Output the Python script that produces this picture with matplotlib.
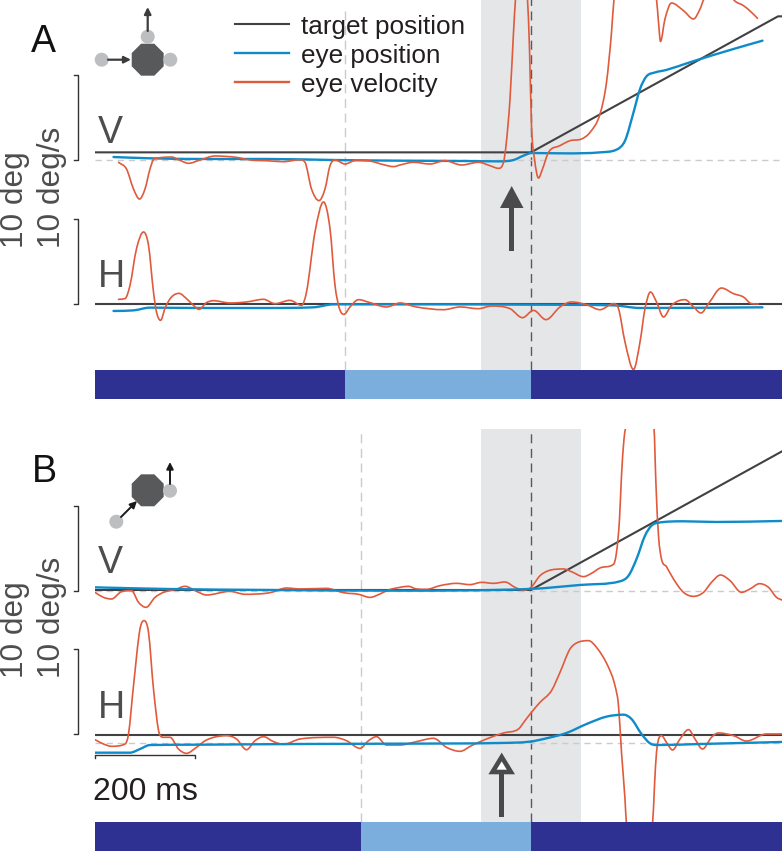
import numpy as np
import matplotlib
matplotlib.use("Agg")
import matplotlib.pyplot as plt
from matplotlib.patches import Circle, RegularPolygon, Polygon, Rectangle, PathPatch
from matplotlib.path import Path

plt.rcParams['font.family'] = ['Liberation Sans', 'DejaVu Sans']

##################################DATA  time in ms from target motion onset, traces in deg or deg/s
t_start, t_end = -872, 502

a_v_vel_t = [-825,-809,-795,-783,-772,-762,-754,-742,-719,-702,-685,-662,-632,-589,-562,-529,-495,-462,-452,-439,-424,-412,-402,-392,-372,-349,-322,-295,-275,-262,-235,-202,-172,-139,-105,-82,-65,-55,-50,-42,-35,-31,-19,-7,-3,1,7,15,23,35,58,78,101,118,138,151,161,166,208,251,255,259,268,281,305,325,338,346,380,407,425,441,453]
a_v_vel = [-0.27,-1.06,-3.41,-4.59,-3.41,-1.06,0.12,0.27,0.35,-0.04,-0.39,0,0.47,0.31,0,-0.08,-0.2,0.04,-0.27,-3.41,-4.78,-3.41,-0.67,0,-0.47,0,-0.12,-0.55,-0.78,-0.59,-0.27,-0.47,-0.08,-0.59,-0.27,-0.67,-0.98,-0.27,1.69,7.18,15.0,18.9,26,18.9,13.06,4.04,0.12,-2.12,-1.06,0.9,1.69,2.27,2.47,3.25,5.41,9.14,15.0,18.9,26,18.9,16.2,13.96,16.6,18.47,17.57,16.59,17.76,18.94,21,18.75,18.16,17.37,16.67]
a_v_pos_t = [-835,-762,-662,-529,-395,-262,-129,-62,-35,-15,1,71,138,171,188,205,218,231,248,271,318,405,463]
a_v_pos = [0.35,0.2,0.12,0.12,0,-0.08,-0.12,-0.16,0,0.51,0.82,0.78,0.9,1.22,2.27,5.6,8.35,9.84,10.3,10.6,11.5,13.06,14.04]
a_v_tgt_t = [-872,0,494,502]
a_v_tgt = [0.9,0.9,16.9,16.9]

a_h_vel_t = [-825,-812,-802,-789,-775,-765,-755,-749,-741,-731,-719,-704,-689,-675,-664,-649,-635,-602,-569,-535,-512,-482,-459,-449,-432,-415,-402,-392,-383,-374,-362,-345,-322,-289,-262,-229,-175,-142,-105,-79,-42,-17,5,30,58,81,111,138,165,175,188,205,218,228,239,251,265,281,308,325,340,355,381,405,425,441,455]
a_h_vel = [0.55,0.63,2.2,6.5,8.47,6.9,1.41,-0.94,-1.92,-0.35,0.82,1.25,0.63,-0.16,-0.63,0.16,0.39,0.12,0.24,0.55,0.04,0.43,-0.16,1.41,8.47,12.0,8.86,2.2,-0.55,-1.22,-0.35,0.51,0.16,-0.35,0.12,-0.35,-0.67,-0.35,-0.55,-0.24,-0.55,-1.61,-0.75,-1.84,-0.35,0.24,-0.08,-0.67,0.04,-0.55,-4.47,-7.7,-4.47,-0.55,1.41,0.24,-1.53,-0.16,0.51,-0.35,-1.06,0.04,1.88,1.22,0.82,0.04,0]
a_h_pos_t = [-835,-795,-762,-662,-529,-435,-395,-262,5,165,218,463]
a_h_pos = [-0.82,-0.75,-0.43,-0.47,-0.47,-0.39,-0.04,-0.04,-0.08,-0.16,-0.47,-0.39]
a_h_tgt_t = [-872,502]
a_h_tgt = [0,0]

b_v_vel_t = [-872,-855,-839,-819,-799,-785,-770,-752,-735,-712,-692,-669,-649,-602,-572,-522,-489,-462,-409,-375,-345,-322,-302,-285,-262,-245,-229,-209,-182,-149,-122,-99,-75,-52,-32,-15,0,18,35,65,81,105,121,138,165,171,177,181,186,189,215,246,250,255,261,271,285,305,325,345,361,379,398,421,438,457,475,491,502]
b_v_vel = [-0.16,-0.75,-0.94,-0.08,0.04,-1.33,-1.92,-0.75,-0.16,0.16,0.55,-0.04,-0.47,-0.04,-0.39,-0.2,0.35,0.24,0.31,-0.2,-0.39,-0.75,-0.35,0.12,0.43,0.55,0.24,0.2,0.63,0.9,0.75,1.02,0.9,1.06,0.43,0.08,0.43,1.8,2.39,2.59,2.27,1.69,2.08,2.71,3.14,4.55,8.47,13.57,17.88,19.14,26,19.14,12.4,6.5,3.76,2.86,1.41,-0.16,-0.63,-0.16,1.02,1.88,1.22,-0.16,0.24,0.86,0.43,-0.75,-1.06]
b_v_pos_t = [-872,-729,-529,-262,-2,98,178,195,211,228,241,255,305,371,502]
b_v_pos = [0.43,0.24,0.12,0.04,0.24,0.71,1.14,1.8,3.76,6.51,7.69,8.04,8.2,8.12,8.24]
b_v_tgt_t = [-872,0,502]
b_v_tgt = [0.12,0.12,16.43]

b_h_vel_t = [-872,-855,-839,-812,-805,-795,-782,-774,-765,-755,-743,-735,-722,-705,-689,-669,-649,-609,-589,-569,-552,-535,-515,-495,-462,-395,-369,-342,-325,-309,-289,-262,-229,-195,-169,-142,-119,-89,-55,-25,-12,1,18,41,58,78,91,115,131,155,168,175,181,188,191,217,243,247,251,261,271,283,298,315,328,343,361,375,405,431,471,502]
b_h_vel = [-0.55,-1.06,-1.33,-1.06,0.12,5.8,12.47,13.45,12.08,5.41,0.12,-0.27,-0.27,-1.65,-2.16,-1.45,-0.59,-0.08,-0.47,-1.73,-0.67,-0.2,-0.78,-1.1,-0.47,-0.27,-0.67,-1.57,-0.67,-0.2,-1.18,-1.18,-0.78,-0.39,-1.45,-1.92,-1.25,-0.47,0.24,0.71,1.69,2.67,3.84,5.22,7.37,10.12,10.82,11.1,10.31,7.96,5.8,3.45,-2.04,-7.53,-10.47,-14,-10.47,-5.96,-2.04,-0.08,-0.86,-1.76,-0.47,0.63,-0.47,-1.65,-0.27,0.24,-0.08,-0.71,0.12,0.12]
b_h_pos_t = [-872,-802,-782,-762,-662,-462,-262,-62,-2,31,71,111,151,185,201,221,238,251,338,502]
b_h_pos = [-2.08,-2.08,-1.65,-1.18,-1.14,-1.06,-1.02,-0.94,-0.78,-0.39,0.24,1.29,2.16,2.39,1.88,0.12,-0.98,-1.18,-1.06,-0.82]
b_h_tgt_t = [-872,502]
b_h_tgt = [0,0]

a_epochs = [-872,-372,0,502]
b_epochs = [-872,-340,0,502]
band = [-100,100]
##################################DATA

black = '#414042'
blue = '#0F8BC9'
red = '#E05A3C'
dark_bar = '#2E3192'
light_bar = '#7CAEDD'
band_col = '#E5E6E8'
light_dash = '#C9CBCE'
oct_col = '#58595B'
dot_col = '#BCBEC0'

W, H = 782, 853
PX = 8.5  # px per deg
LX0, LX1 = 95, 782

fig = plt.figure(figsize=(W / 100, H / 100), dpi=100)


def trace_ax(top, bottom, base):
    # axes placed by pixel box, zero of the trace sits at pixel row base
    ax = fig.add_axes([LX0 / W, 1 - bottom / H, (LX1 - LX0) / W, (bottom - top) / H])
    ax.set_xlim(t_start, t_end)
    ax.set_ylim((base - bottom) / PX, (base - top) / PX)
    ax.axis('off')
    return ax


def bar_ax(top, bottom, edges):
    ax = fig.add_axes([LX0 / W, 1 - bottom / H, (LX1 - LX0) / W, (bottom - top) / H])
    ax.set_xlim(t_start, t_end)
    ax.set_ylim(0, 1)
    ax.axis('off')
    cols = [dark_bar, light_bar, dark_bar]
    for i in range(3):
        ax.barh(0.5, edges[i + 1] - edges[i], left=edges[i], height=1, color=cols[i], linewidth=0)


def curve(ax, t, y, col, lw, z):
    # bezier path through the read values so the traces are not drawn as corners
    t = np.array(t, float)
    y = np.array(y, float)
    s = np.diff(y) / np.diff(t)
    m = np.zeros(len(t))
    m[0], m[-1] = s[0], s[-1]
    for i in range(1, len(t) - 1):
        if s[i - 1] * s[i] > 0:
            m[i] = np.sign(s[i]) * min(abs(s[i - 1] + s[i]) / 2, 3 * abs(s[i - 1]), 3 * abs(s[i]))
    verts = [(t[0], y[0])]
    codes = [Path.MOVETO]
    for i in range(len(t) - 1):
        d = (t[i + 1] - t[i]) / 3
        verts += [(t[i] + d, y[i] + m[i] * d), (t[i + 1] - d, y[i + 1] - m[i + 1] * d), (t[i + 1], y[i + 1])]
        codes += [Path.CURVE4] * 3
    ax.add_patch(PathPatch(Path(verts, codes), fill=False, edgecolor=col, lw=lw, zorder=z, capstyle='round'))


# Panel A
ax_av = trace_ax(0, 371, 161)
ax_av.axvspan(band[0], band[1], color=band_col, linewidth=0, zorder=0)
ax_av.axvline(a_epochs[1], ymax=0.98, color=light_dash, lw=1, dashes=(6.5, 4), zorder=1)
ax_av.axvline(0, color='#58595B', lw=1, dashes=(6.5, 4), zorder=1)
ax_av.axhline(0, color=light_dash, lw=1, dashes=(4.5, 3.5), zorder=1)
ax_av.plot(a_v_tgt_t, a_v_tgt, color=black, lw=1.5, label='target position', zorder=2)
curve(ax_av, a_v_pos_t, a_v_pos, blue, 1.7, 3)
curve(ax_av, a_v_vel_t, a_v_vel, red, 1.2, 4)
ax_av.plot([], [], color=blue, lw=1.7, label='eye position')
ax_av.plot([], [], color=red, lw=1.7, label='eye velocity')

ax_ah = trace_ax(0, 371, 305)
ax_ah.plot(a_h_tgt_t, a_h_tgt, color=black, lw=1.5)
curve(ax_ah, a_h_pos_t, a_h_pos, blue, 1.7, 3)
curve(ax_ah, a_h_vel_t, a_h_vel, red, 1.2, 4)
bar_ax(371, 400, a_epochs)

# Panel B
ax_bv = trace_ax(430, 822.5, 592)
ax_bv.axvspan(band[0], band[1], color=band_col, linewidth=0, zorder=0)
ax_bv.axvline(b_epochs[1], color=light_dash, lw=1, dashes=(6.5, 4), zorder=1)
ax_bv.axvline(0, color='#58595B', lw=1, dashes=(6.5, 4), zorder=1)
ax_bv.axhline(0, color=light_dash, lw=1, dashes=(4.5, 3.5), zorder=1)
ax_bv.plot(b_v_tgt_t, b_v_tgt, color=black, lw=1.5, zorder=2)
curve(ax_bv, b_v_vel_t, b_v_vel, red, 1.2, 3)
curve(ax_bv, b_v_pos_t, b_v_pos, blue, 1.7, 4)

ax_bh = trace_ax(430, 822.5, 736)
ax_bh.axhline(-0.94, color=light_dash, lw=1, dashes=(4.5, 3.5), zorder=1)
ax_bh.plot(b_h_tgt_t, b_h_tgt, color=black, lw=1.5, zorder=2)
curve(ax_bh, b_h_vel_t, b_h_vel, red, 1.2, 3)
curve(ax_bh, b_h_pos_t, b_h_pos, blue, 1.7, 4)
bar_ax(822.5, 852, b_epochs)

ax_av.legend(loc='upper left', bbox_to_anchor=(235 / W, 1 - 15 / H), bbox_transform=fig.transFigure,
             frameon=False, fontsize=18.8, handlelength=2.08, handletextpad=0.46,
             labelspacing=0.2, borderpad=0, borderaxespad=0, labelcolor='#231F20')

# annotation layer in pixel units
an = fig.add_axes([0, 0, 1, 1])
an.set_xlim(0, W)
an.set_ylim(H, 0)
an.axis('off')
an.patch.set_alpha(0)


def bracket(top, bottom):
    an.plot([74, 78, 78, 74], [top, top, bottom, bottom], color='#333333', lw=1)


def arrow(x0, y0, x1, y1, col, lw=1.6, scale=10):
    an.annotate('', xy=(x1, y1), xytext=(x0, y0),
                arrowprops=dict(arrowstyle='-|>', color=col, lw=lw, mutation_scale=scale,
                                shrinkA=0, shrinkB=0))


for top, bottom in [(76, 161), (220, 305), (507, 592), (650, 735)]:
    bracket(top, bottom)

for s, x, y in [('A', 43, 52), ('B', 44, 482)]:
    an.text(x, y, s, fontsize=27, color='#111111', ha='center', va='baseline')
for s, x, y in [('V', 110, 143), ('H', 111, 287), ('V', 110, 573), ('H', 111, 718)]:
    an.text(x, y, s, fontsize=27, color='#4D4D4F', ha='center', va='baseline')

for y0 in [248, 678]:
    an.text(15, y0, '10 deg', fontsize=22.7, color='#4D4D4F', rotation=90, ha='center', va='bottom')
    an.text(52, y0, '10 deg/s', fontsize=22.7, color='#4D4D4F', rotation=90, ha='center', va='bottom')

# eye schematic A
an.add_patch(RegularPolygon((147.7, 60.7), 8, radius=17.3, orientation=0.3927, color=oct_col, lw=0))
for xy in [(147.7, 37.7), (101.7, 60.7), (170.3, 60.7)]:
    an.add_patch(Circle(xy, 7, color=dot_col, lw=0))
arrow(108, 60.7, 131, 60.7, '#3C3C3E')
arrow(147.7, 32, 147.7, 8, '#3C3C3E')

# eye schematic B
an.add_patch(RegularPolygon((147.7, 491.3), 8, radius=17.3, orientation=0.3927, color=oct_col, lw=0))
for xy in [(170, 491.7), (116.3, 522.7)]:
    an.add_patch(Circle(xy, 7, color=dot_col, lw=0))
arrow(121, 518, 137, 502, '#1A1A1A', lw=1.4)
arrow(170, 485, 170, 463, '#1A1A1A', lw=1.4)

# solid arrow A
an.add_patch(Rectangle((509.2, 208), 5, 44, color='#4A4A4C', lw=0))
an.add_patch(Polygon([(500, 209), (523.5, 209), (511.7, 187)], color='#4A4A4C', lw=0))
# open arrow B
an.add_patch(Rectangle((499.2, 774), 5, 44, color='#4A4A4C', lw=0))
an.add_patch(Polygon([(492.5, 773), (510.9, 773), (501.7, 758)], facecolor='white', edgecolor='#4A4A4C',
                     lw=3.3, joinstyle='miter'))

# 200 ms scale bar
an.plot([95, 95, 195, 195], [759, 755.7, 755.7, 759], color='#333333', lw=1)
an.text(145, 800, '200 ms', fontsize=23, color='#231F20', ha='center', va='baseline')

fig.savefig('out.png', dpi=100)
